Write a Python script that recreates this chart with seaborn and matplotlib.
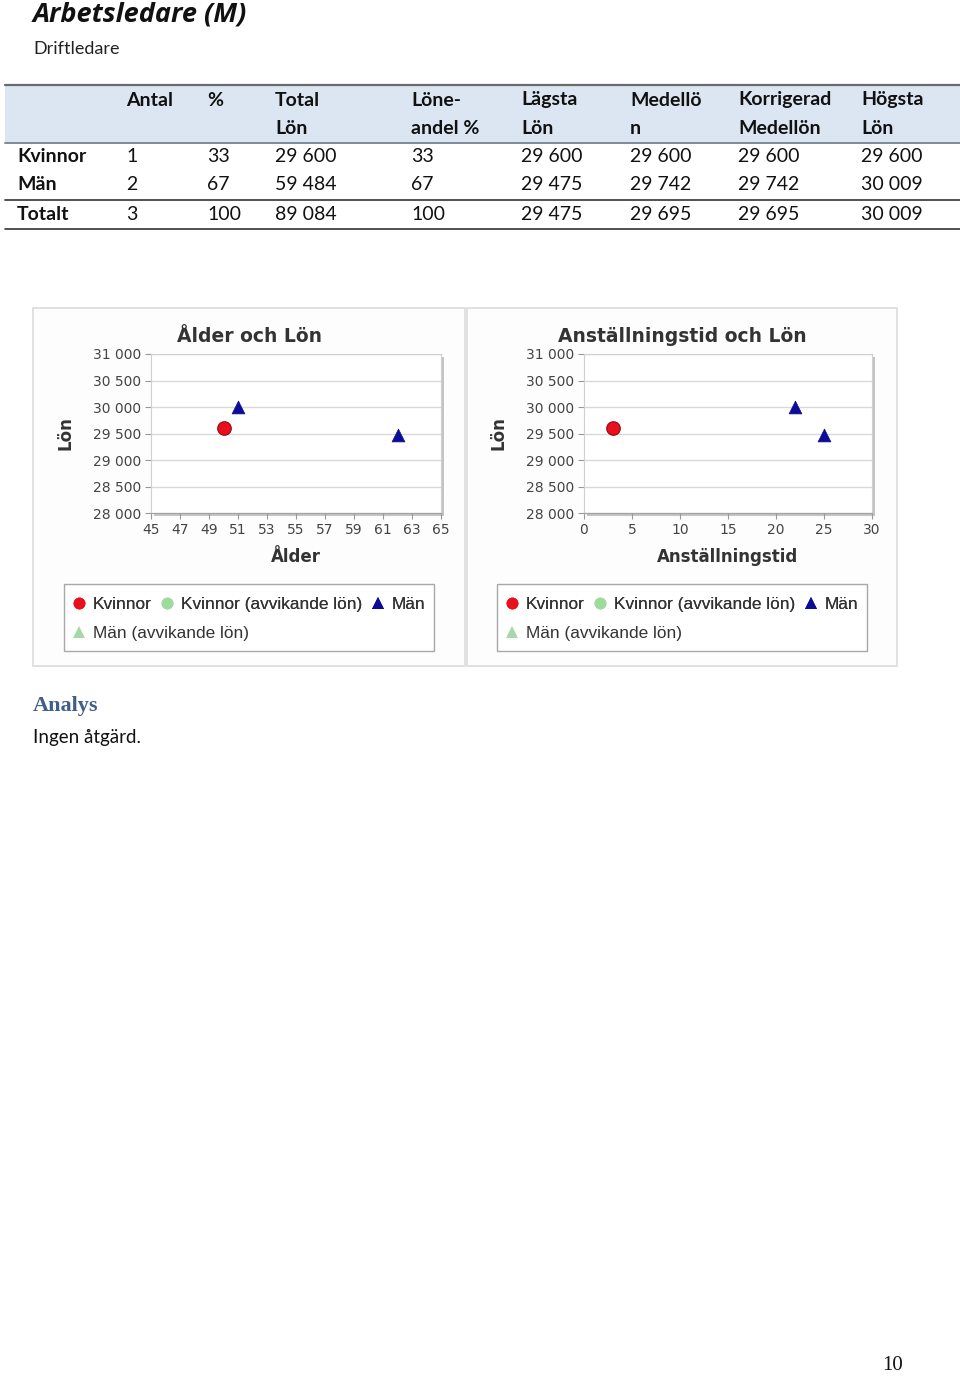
import numpy as np
import pandas as pd
import matplotlib
matplotlib.use("Agg")
import matplotlib.pyplot as plt
import matplotlib.patches as mpatches
from matplotlib.lines import Line2D
from matplotlib.ticker import FuncFormatter, MultipleLocator
import seaborn as sns

W, H = 960, 1376

# ---- table data ----
row_labels = ["Kvinnor", "Män", "Totalt"]
header_top = ["Antal", "%", "Total", "Löne-", "Lägsta", "Medellö", "Korrigerad", "Högsta"]
header_bot = ["", "", "Lön", "andel %", "Lön", "n", "Medellön", "Lön"]
antal = [1, 2, 3]
procent = [33, 67, 100]
total_lon = [29600, 59484, 89084]
loneandel = [33, 67, 100]
lagsta_lon = [29600, 29475, 29475]
medellon = [29600, 29742, 29695]
korr_medellon = [29600, 29742, 29695]
hogsta_lon = [29600, 30009, 30009]

# ---- scatter data ----
kon = ["Kvinnor", "Män", "Män"]
alder = [50, 51, 62]
anstallningstid = [3, 22, 25]
lon = [29600, 30009, 29475]

alder_ticks = [45, 47, 49, 51, 53, 55, 57, 59, 61, 63, 65]
anst_ticks = [0, 5, 10, 15, 20, 25, 30]
lon_ticks = [28000, 28500, 29000, 29500, 30000, 30500, 31000]

legend_labels = ["Kvinnor", "Kvinnor (avvikande lön)", "Män", "Män (avvikande lön)"]
legend_markers = ["o", "o", "^", "^"]
legend_colors = ["#e8101c", "#9edc9e", "#0c0c96", "#a8d8a8"]

sns.set_style("white")
plt.rcParams["font.family"] = ["Lato", "DejaVu Sans"]

fig = plt.figure(figsize=(W / 100, H / 100), dpi=100)


def fx(x):
    return x / W


def fy(y):
    return 1 - y / H


def sep(v):
    return f"{v:,}".replace(",", " ")


# ---- heading ----
fig.text(fx(33), fy(14), "Arbetsledare (M)", fontsize=19.5, fontweight="bold",
         fontstyle="italic", color="#111111", va="center", family="Open Sans")
fig.text(fx(33), fy(49), "Driftledare", fontsize=13, color="#222222", va="center")

# ---- table ----
fig.add_artist(mpatches.Rectangle((fx(5), fy(142)), fx(955), 56 / H,
                                  transform=fig.transFigure, color="#dce6f2", lw=0))
for yl, c, lw in [(85, "#6a6a6a", 1.6), (143, "#7f8a99", 1.4), (200, "#333333", 1.2), (229, "#333333", 1.2)]:
    fig.add_artist(Line2D([fx(5), fx(960)], [fy(yl), fy(yl)], color=c, lw=lw,
                          transform=fig.transFigure))

col_x = [126, 207, 275, 411, 521, 630, 738, 861]
for x, t, b in zip(col_x, header_top, header_bot):
    fig.text(fx(x), fy(100), t, fontsize=14, fontweight="bold", va="center", color="#111111")
    if b:
        fig.text(fx(x), fy(128), b, fontsize=14, fontweight="bold", va="center", color="#111111")

row_y = [157, 185, 214]
columns = [antal, procent, total_lon, loneandel, lagsta_lon, medellon, korr_medellon, hogsta_lon]
for i, (lab, y) in enumerate(zip(row_labels, row_y)):
    fig.text(fx(17), fy(y), lab, fontsize=14, fontweight="bold", va="center", color="#111111")
    for x, col in zip(col_x, columns):
        fig.text(fx(x), fy(y), sep(col[i]), fontsize=14, va="center", color="#111111")

# ---- charts ----
df = pd.DataFrame({"Kön": kon, "Ålder": alder, "Anställningstid": anstallningstid, "Lön": lon})

panels = [
    dict(box=(33, 308, 465, 666), ax=(151, 354, 441, 513), xcol="Ålder",
         title="Ålder och Lön", xlabel="Ålder", xticks=alder_ticks, ylab_x=65,
         leg=(64, 584, 434, 651)),
    dict(box=(467, 308, 897, 666), ax=(584, 354, 872, 513), xcol="Anställningstid",
         title="Anställningstid och Lön", xlabel="Anställningstid", xticks=anst_ticks,
         ylab_x=498, leg=(497, 584, 867, 651)),
]

handles = [Line2D([], [], ls="", marker=m, color=c, markersize=8.5, markeredgewidth=0)
           for m, c in zip(legend_markers, legend_colors)]

for p in panels:
    x0, y0, x1, y1 = p["box"]
    fig.add_artist(mpatches.Rectangle((fx(x0), fy(y1)), (x1 - x0) / W, (y1 - y0) / H,
                                      transform=fig.transFigure, facecolor="#fdfdfd",
                                      edgecolor="#dcdcdc", lw=1.2, zorder=-2))
    a0, b0, a1, b1 = p["ax"]
    # shadow of plot area
    fig.add_artist(mpatches.Rectangle((fx(a0 + 3), fy(b1 + 3)), (a1 - a0) / W, (b1 - b0) / H,
                                      transform=fig.transFigure, facecolor="#c4c4c4",
                                      edgecolor="none", zorder=-1))
    ax = fig.add_axes([fx(a0), fy(b1), (a1 - a0) / W, (b1 - b0) / H])
    ax.set_zorder(2)
    ax.set_facecolor("white")
    sub_k = df[df["Kön"] == "Kvinnor"]
    sub_m = df[df["Kön"] == "Män"]
    sns.scatterplot(data=sub_k, x=p["xcol"], y="Lön", marker="o", color="#e8101c",
                    edgecolor="#a00010", linewidth=0.8, s=95, ax=ax, legend=False, zorder=3)
    sns.scatterplot(data=sub_m, x=p["xcol"], y="Lön", marker="^", color="#0c0c96",
                    edgecolor="#0c0c96", linewidth=0.5, s=85, ax=ax, legend=False, zorder=3)
    ax.set_xlim(p["xticks"][0], p["xticks"][-1])
    ax.set_ylim(lon_ticks[0], lon_ticks[-1])
    ax.set_xticks(p["xticks"])
    ax.set_yticks(lon_ticks)
    ax.yaxis.set_major_formatter(FuncFormatter(lambda v, _: sep(int(v))))
    ax.grid(axis="y", color="#d9d9d9", lw=1)
    ax.set_axisbelow(True)
    ax.tick_params(axis="both", labelsize=10, colors="#999999", labelcolor="#444444",
                   length=4, width=0.8, pad=3, left=True, bottom=True,
                   labelfontfamily="DejaVu Sans")
    for s in ax.spines.values():
        s.set_color("#d0d0d0")
        s.set_linewidth(0.8)
    ax.spines["bottom"].set_color("#a0a0a0")
    ax.set_xlabel("")
    ax.set_ylabel("")

    fig.text(fx((x0 + x1) / 2), fy(336), p["title"], fontsize=13.5, fontweight="bold",
             color="#333333", ha="center", va="center", family="DejaVu Sans")
    fig.text(fx((a0 + a1) / 2), fy(557), p["xlabel"], fontsize=12, fontweight="bold",
             color="#333333", ha="center", va="center", family="DejaVu Sans")
    fig.text(fx(p["ylab_x"]), fy((b0 + b1) / 2), "Lön", fontsize=12, fontweight="bold",
             color="#333333", ha="center", va="center", rotation=90, family="DejaVu Sans")

    l0, m0, l1, m1 = p["leg"]
    fig.add_artist(mpatches.Rectangle((fx(l0), fy(m1)), (l1 - l0) / W, (m1 - m0) / H,
                                      transform=fig.transFigure, facecolor="white",
                                      edgecolor="#a8a8a8", lw=1))
    leg_kw = dict(frameon=False, handlelength=0.6, handletextpad=0.5, columnspacing=0.6,
                  borderpad=0, borderaxespad=0, loc="center left",
                  prop={"family": "Liberation Sans", "size": 12.4})
    lg1 = fig.legend(handles=handles[:3], labels=legend_labels[:3], ncol=3,
                     bbox_to_anchor=(fx(l0 + 10), fy(604)), **leg_kw)
    for t in lg1.get_texts():
        t.set_color("#333333")
    lg2 = fig.legend(handles=handles[3:], labels=legend_labels[3:], ncol=1,
                     bbox_to_anchor=(fx(l0 + 10), fy(633)), **leg_kw)
    for t in lg2.get_texts():
        t.set_color("#333333")
    fig.add_artist(lg1)

# ---- analysis ----
fig.text(fx(33), fy(706), "Analys", fontsize=16, fontweight="bold", color="#3e5f8a",
         va="center", family="Liberation Serif")
fig.text(fx(33), fy(738), "Ingen åtgärd.", fontsize=13.5, color="#111111", va="center")
fig.text(fx(893), fy(1366), "10", fontsize=15, color="#111111", ha="center", va="center",
         family="Liberation Serif")

fig.savefig("out.png", dpi=100)
